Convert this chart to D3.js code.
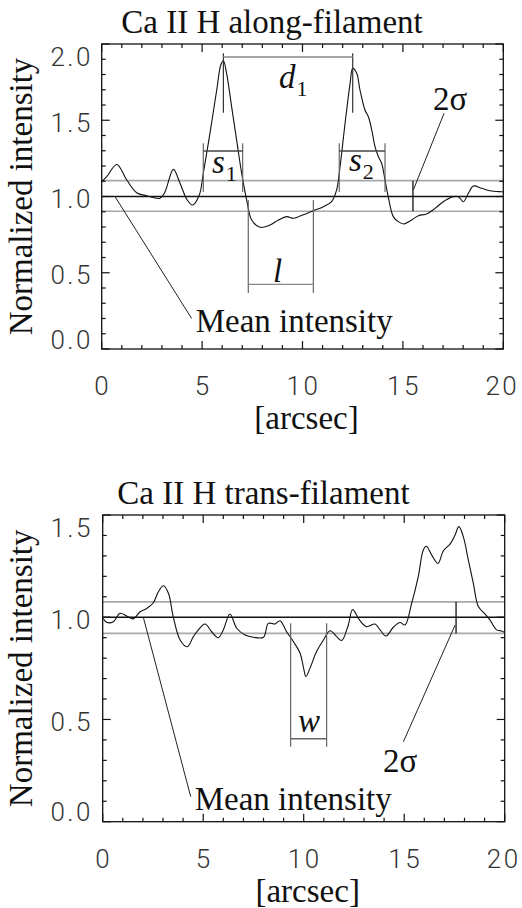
<!DOCTYPE html>
<html>
<head>
<meta charset="utf-8">
<script src="https://cdn.jsdelivr.net/npm/d3@7"></script>
<style>
  html, body { margin: 0; padding: 0; background: #fff; }
  svg { display: block; }
  .serif { font-family: 'Liberation Serif', 'Times New Roman', serif; fill: #111; }
  .tick-label { font-family: 'Roboto Light', 'Lato Light', 'Open Sans Light', Roboto, 'DejaVu Sans', sans-serif; font-weight: 300; font-size: 26px; letter-spacing: 2.5px; fill: #333; }
</style>
</head>
<body>
<div id="container"></div>
<script>
//### DATA ###
//>>> Along-filament profile
const alongX = [0, 0.25, 0.75, 1.25, 1.74, 2.24, 2.9, 3.15, 3.57, 3.9, 4.26, 4.53, 4.86, 5.06, 5.39, 5.73, 5.93, 6.06, 6.22, 6.47, 6.72, 6.97, 7.22, 7.47, 7.88, 8.38, 8.8, 9.21, 9.54, 9.88, 10.54, 11.04, 11.45, 11.7, 11.87, 12.12, 12.37, 12.5, 12.7, 12.86, 13.11, 13.28, 13.45, 13.61, 13.78, 13.94, 14.11, 14.27, 14.52, 14.77, 15.05, 15.35, 15.77, 16.18, 16.6, 17.01, 17.51, 17.76, 18.01, 18.26, 18.51, 18.92, 19.34, 19.92, 20];
const alongY = [1.097, 1.13, 1.21, 1.108, 1.025, 1.005, 0.988, 1.03, 1.178, 1.087, 0.977, 0.944, 1.01, 1.152, 1.414, 1.70, 1.862, 1.89, 1.808, 1.589, 1.37, 1.152, 0.977, 0.846, 0.798, 0.813, 0.846, 0.868, 0.857, 0.872, 0.907, 0.933, 0.966, 1.043, 1.195, 1.48, 1.742, 1.84, 1.808, 1.70, 1.567, 1.523, 1.436, 1.327, 1.261, 1.218, 1.108, 0.999, 0.868, 0.835, 0.82, 0.839, 0.874, 0.885, 0.922, 0.966, 0.999, 0.999, 0.966, 1.021, 1.069, 1.054, 1.038, 1.031, 1.03];

//>>> Trans-filament profile
const transX = [0.03, 0.2, 0.53, 0.86, 1.19, 1.52, 1.86, 2.19, 2.52, 2.77, 3.02, 3.27, 3.51, 3.85, 4.21, 4.51, 4.76, 5.09, 5.42, 5.75, 6.0, 6.33, 6.67, 7.08, 7.5, 8.0, 8.24, 8.58, 8.82, 9.15, 9.49, 9.82, 9.98, 10.11, 10.31, 10.64, 10.98, 11.31, 11.64, 11.89, 12.22, 12.43, 12.8, 13.13, 13.55, 13.8, 14.09, 14.46, 14.79, 15.04, 15.37, 15.7, 15.95, 16.1, 16.37, 16.68, 16.95, 17.3, 17.53, 17.72, 17.94, 18.19, 18.44, 18.69, 19.02, 19.27, 19.6, 19.85, 20];
const transY = [0.994, 0.975, 0.978, 1.019, 1.006, 0.992, 1.027, 1.043, 1.071, 1.125, 1.154, 1.117, 1.002, 0.889, 0.856, 0.905, 0.938, 0.967, 0.929, 0.9, 0.938, 1.016, 0.946, 0.913, 0.902, 0.902, 0.97, 0.967, 0.983, 0.929, 0.88, 0.824, 0.759, 0.71, 0.75, 0.832, 0.889, 0.934, 0.905, 0.886, 0.962, 1.037, 0.983, 0.954, 0.967, 0.938, 0.908, 0.951, 0.974, 0.962, 1.068, 1.199, 1.329, 1.347, 1.304, 1.263, 1.325, 1.36, 1.402, 1.443, 1.394, 1.28, 1.166, 1.052, 1.016, 0.986, 0.938, 0.933, 0.925];

//>>> Axes
const xMajorTicks = [0, 5, 10, 15, 20];
const alongYTicks = [0.0, 0.5, 1.0, 1.5, 2.0];
const transYTicks = [0.0, 0.5, 1.0, 1.5];

//>>> Reference levels (mean and 2 sigma band)
const alongSigma = [0.903, 1.0, 1.104];
const transSigma = [0.921, 1.0, 1.075];

//>>> Measurement markers, in data units
const alongPeaks = [6.06, 12.5];          // d1
const alongS1 = [5.06, 7.02];
const alongS2 = [11.83, 14.11];
const alongL = [7.30, 10.54];
const transW = [9.35, 11.14];


//### DRAW ###
const svg = d3.select('#container')
  .append('svg')
  .attr('width', 522)
  .attr('height', 908);

function drawPanel(opts) {
  const x = d3.scaleLinear().domain([0, 20]).range(opts.xRange);
  const y = d3.scaleLinear().domain(opts.yDomain).range(opts.yRange);
  const [x0, x1] = opts.xRange;
  const [yb, yt] = opts.yRange;
  const g = svg.append('g');

  //_____ REFERENCE LINES _____
  g.selectAll('.sigma')
    .data([opts.sigma[0], opts.sigma[2]])
    .enter().append('line')
    .attr('x1', x0).attr('x2', x1)
    .attr('y1', d => y(d)).attr('y2', d => y(d))
    .attr('stroke', '#a3a9ae')
    .attr('stroke-width', 1.6);

  g.append('line')
    .attr('x1', x0).attr('x2', x1)
    .attr('y1', y(opts.sigma[1])).attr('y2', y(opts.sigma[1]))
    .attr('stroke', '#111')
    .attr('stroke-width', 1.3);

  //_____ PROFILE CURVE _____
  const line = d3.line()
    .x(d => x(d[0]))
    .y(d => y(d[1]))
    .curve(d3.curveCatmullRom.alpha(0.5));

  g.append('path')
    .datum(d3.zip(opts.xs, opts.ys))
    .attr('d', line)
    .attr('fill', 'none')
    .attr('stroke', '#111')
    .attr('stroke-width', 1.1);

  //_____ FRAME AND TICKS _____
  g.append('rect')
    .attr('x', x0).attr('y', yt)
    .attr('width', x1 - x0).attr('height', yb - yt)
    .attr('fill', 'none')
    .attr('stroke', '#111')
    .attr('stroke-width', 1.3);

  const xMinor = d3.range(1, 20).filter(v => v % 5 !== 0);
  const ticks = [];
  xMajorTicks.forEach(v => ticks.push({ x: x(v), horiz: false, len: 8 }));
  xMinor.forEach(v => ticks.push({ x: x(v), horiz: false, len: 4 }));
  const yMax = opts.yDomain[1];
  d3.range(0, Math.round(yMax * 10) + 1).map(i => i / 10).forEach(v => {
    const major = opts.yTicks.some(t => Math.abs(t - v) < 1e-6);
    ticks.push({ y: y(v), horiz: true, len: major ? 8 : 4 });
  });

  ticks.forEach(t => {
    if (t.horiz) {
      g.append('line').attr('x1', x0).attr('x2', x0 + t.len).attr('y1', t.y).attr('y2', t.y).attr('stroke', '#111').attr('stroke-width', 1.2);
      g.append('line').attr('x1', x1).attr('x2', x1 - t.len).attr('y1', t.y).attr('y2', t.y).attr('stroke', '#111').attr('stroke-width', 1.2);
    } else {
      g.append('line').attr('x1', t.x).attr('x2', t.x).attr('y1', yb).attr('y2', yb - t.len).attr('stroke', '#111').attr('stroke-width', 1.2);
      g.append('line').attr('x1', t.x).attr('x2', t.x).attr('y1', yt).attr('y2', yt + t.len).attr('stroke', '#111').attr('stroke-width', 1.2);
    }
  });

  //>>> Tick labels
  g.selectAll('.xl')
    .data(xMajorTicks)
    .enter().append('text')
    .attr('class', 'tick-label')
    .attr('x', d => x(d) + (d === 20 ? -1 : 1))
    .attr('y', yb + 46)
    .attr('text-anchor', 'middle')
    .text(d => d);

  g.selectAll('.yl')
    .data(opts.yTicks)
    .enter().append('text')
    .attr('class', 'tick-label')
    .attr('x', 93)
    .attr('y', d => Math.max(yt + 12, Math.min(yb - 10, y(d) + 2)) + 9.5)
    .attr('text-anchor', 'end')
    .text(d => d.toFixed(1));

  //_____ TEXTS _____
  g.append('text')
    .attr('class', 'serif')
    .attr('x', opts.titleX)
    .attr('y', yt - 11)
    .attr('text-anchor', 'middle')
    .style('font-size', '33px')
    .text(opts.title);

  g.append('text')
    .attr('class', 'serif')
    .attr('transform', `translate(32, ${(yt + yb) / 2}) rotate(-90)`)
    .attr('text-anchor', 'middle')
    .style('font-size', '33px')
    .text('Normalized intensity');

  g.append('text')
    .attr('class', 'serif')
    .attr('x', (x0 + x1) / 2 + 4)
    .attr('y', yb + 80)
    .attr('text-anchor', 'middle')
    .style('font-size', '33px')
    .text('[arcsec]');

  //>>> Mean intensity leader
  g.append('line')
    .attr('x1', x(opts.meanLeader[0])).attr('y1', y(opts.meanLeader[1]))
    .attr('x2', x(opts.meanLeader[2])).attr('y2', y(opts.meanLeader[3]))
    .attr('stroke', '#222').attr('stroke-width', 1);
  g.append('text')
    .attr('class', 'serif')
    .attr('x', x(opts.meanLeader[2]) + 4)
    .attr('y', y(opts.meanLeader[3]) + 13)
    .style('font-size', '33px')
    .text('Mean intensity');

  //>>> 2 sigma marker
  g.append('line')
    .attr('x1', x(opts.sigmaAt)).attr('x2', x(opts.sigmaAt))
    .attr('y1', y(opts.sigma[2])).attr('y2', y(opts.sigma[0]))
    .attr('stroke', '#111').attr('stroke-width', 1.3);
  g.append('line')
    .attr('x1', x(opts.sigmaLeader[0])).attr('y1', y(opts.sigmaLeader[1]))
    .attr('x2', x(opts.sigmaLeader[2])).attr('y2', y(opts.sigmaLeader[3]))
    .attr('stroke', '#222').attr('stroke-width', 1);
  g.append('text')
    .attr('class', 'serif')
    .attr('x', opts.sigmaText[0])
    .attr('y', opts.sigmaText[1])
    .style('font-size', '33px')
    .text('2σ');

  return { g, x, y };
}

//>>> Helper for a bracket: two verticals joined by a horizontal bar
function bracket(p, xs, yTop, yBot, yBar, barColor) {
  xs.forEach(v => {
    p.g.append('line')
      .attr('x1', p.x(v)).attr('x2', p.x(v))
      .attr('y1', p.y(yTop)).attr('y2', p.y(yBot))
      .attr('stroke', '#666').attr('stroke-width', 1.2);
  });
  p.g.append('line')
    .attr('x1', p.x(xs[0])).attr('x2', p.x(xs[1]))
    .attr('y1', p.y(yBar)).attr('y2', p.y(yBar))
    .attr('stroke', barColor).attr('stroke-width', 1.4);
}

function label(p, px, py, main, sub) {
  const t = p.g.append('text')
    .attr('class', 'serif')
    .attr('x', px).attr('y', py)
    .style('font-size', '33px');
  t.append('tspan').style('font-style', 'italic').text(main);
  if (sub) t.append('tspan').attr('dy', 8).attr('dx', 1).style('font-size', '22px').text(sub);
}

//_____ TOP PANEL _____
const alongPanel = drawPanel({
  xs: alongX, ys: alongY,
  xRange: [101.7, 503.3], yRange: [349, 44], yDomain: [0, 2], yTicks: alongYTicks,
  sigma: alongSigma, title: 'Ca II H along-filament', titleX: 272,
  meanLeader: [0.66, 1.0, 4.48, 0.2],
  sigmaAt: 15.5, sigmaLeader: [15.52, 1.043, 17.05, 1.546], sigmaText: [433, 110]
});

//>>> d1: peak to peak
alongPeaks.forEach(v => {
  alongPanel.g.append('line')
    .attr('x1', alongPanel.x(v)).attr('x2', alongPanel.x(v))
    .attr('y1', alongPanel.y(1.94)).attr('y2', alongPanel.y(1.55))
    .attr('stroke', '#333').attr('stroke-width', 1.2);
});
alongPanel.g.append('line')
  .attr('x1', alongPanel.x(alongPeaks[0])).attr('x2', alongPanel.x(alongPeaks[1]))
  .attr('y1', alongPanel.y(1.915)).attr('y2', alongPanel.y(1.915))
  .attr('stroke', '#888').attr('stroke-width', 1.6);
label(alongPanel, 279, 88, 'd', '1');

bracket(alongPanel, alongS1, 1.35, 1.03, 1.298, '#444');
label(alongPanel, 212, 173, 's', '1');
bracket(alongPanel, alongS2, 1.35, 1.03, 1.298, '#444');
label(alongPanel, 349, 171, 's', '2');
bracket(alongPanel, alongL, 0.977, 0.367, 0.424, '#888');
label(alongPanel, 273, 282, 'l');

//_____ BOTTOM PANEL _____
const transPanel = drawPanel({
  xs: transX, ys: transY,
  xRange: [102.7, 504.7], yRange: [821.7, 515], yDomain: [0, 1.5], yTicks: transYTicks,
  sigma: transSigma, title: 'Ca II H trans-filament', titleX: 263.5,
  meanLeader: [2.02, 1.0, 4.38, 0.122],
  sigmaAt: 17.58, sigmaLeader: [17.53, 0.961, 14.96, 0.391], sigmaText: [383, 772]
});

bracket(transPanel, transW, 0.97, 0.367, 0.406, '#666');
label(transPanel, 298, 732, 'w');
</script>
</body>
</html>
